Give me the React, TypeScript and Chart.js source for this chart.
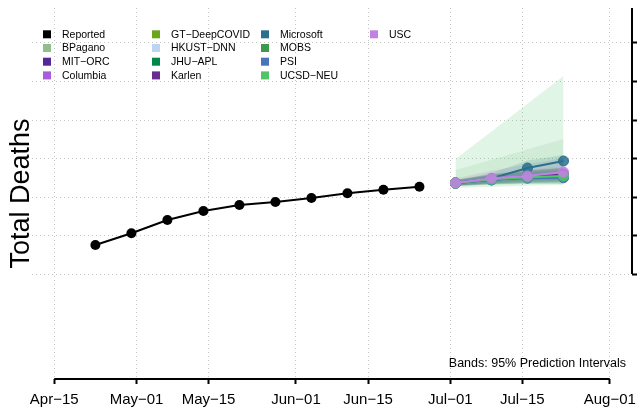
import React, { useEffect, useRef } from "react";
import { Chart, registerables } from "chart.js";

Chart.register(...registerables);

const FONT = "'Liberation Sans', Arial, Helvetica, sans-serif";

// x values are days since Apr-15
const xTickDays = [0, 16, 30, 47, 61, 77, 91, 108];
const xTickLabels = ["Apr−15", "May−01", "May−15", "Jun−01", "Jun−15", "Jul−01", "Jul−15", "Aug−01"];
const yTickValues = [4000, 5000, 6000, 7000, 8000, 9000, 10000];

const reportedDays = [8, 15, 22, 29, 36, 43, 50, 57, 64, 71];
const reportedDeaths = [4753, 5057, 5403, 5636, 5792, 5870, 5974, 6096, 6190, 6268];

const forecastDays = [78, 85, 92, 99];

const modelNames = ["BPagano", "MIT−ORC", "Columbia", "GT−DeepCOVID", "HKUST−DNN", "JHU−APL", "Karlen", "Microsoft", "MOBS", "PSI", "UCSD−NEU", "USC"];
const modelColors = ["#8fbf8f", "#54279a", "#a85ed8", "#6aa51e", "#bcd3f2", "#00884a", "#6a2c91", "#2a6f8c", "#3e9a4a", "#4a74ba", "#50c468", "#c083e2"];

// median forecasts
const medBPagano = [6362, 6460, 6530, 6560];
const medMITORC = [6360, 6450, 6510, 6540];
const medColumbia = [6366, 6475, 6550, 6600];
const medGT = [6362, 6455, 6520, 6550];
const medHKUST = [6358, 6440, 6500, 6520];
const medJHU = [6360, 6445, 6505, 6530];
const medKarlen = [6365, 6470, 6540, 6580];
const medMicrosoft = [6364, 6480, 6753, 6935];
const medMOBS = [6362, 6450, 6500, 6510];
const medPSI = [6360, 6445, 6490, 6500];
const medUCSD = [6363, 6460, 6515, 6545];
const medUSC = [6366, 6490, 6545, 6649];

// 95% interval lower bounds
const loBPagano = [6290, 6340, 6370, 6390];
const loMITORC = [6300, 6360, 6400, 6420];
const loColumbia = [6280, 6330, 6360, 6380];
const loGT = [6300, 6350, 6380, 6400];
const loHKUST = [6310, 6370, 6410, 6420];
const loJHU = [6290, 6340, 6370, 6380];
const loKarlen = [6300, 6370, 6420, 6440];
const loMicrosoft = [6310, 6370, 6500, 6600];
const loMOBS = [6280, 6320, 6340, 6340];
const loPSI = [6290, 6330, 6350, 6350];
const loUCSD = [6234, 6260, 6290, 6312];
const loUSC = [6310, 6400, 6440, 6520];

// 95% interval upper bounds
const hiBPagano = [6701, 6970, 7240, 7506];
const hiMITORC = [6430, 6560, 6650, 6700];
const hiColumbia = [6480, 6680, 6850, 7013];
const hiGT = [6430, 6570, 6680, 6750];
const hiHKUST = [6420, 6520, 6600, 6640];
const hiJHU = [6440, 6580, 6680, 6740];
const hiKarlen = [6440, 6580, 6680, 6760];
const hiMicrosoft = [6430, 6620, 6950, 7091];
const hiMOBS = [6450, 6600, 6700, 6760];
const hiPSI = [6430, 6560, 6640, 6680];
const hiUCSD = [6987, 7700, 8420, 9143];
const hiUSC = [6430, 6600, 6700, 6820];

const medians = [medBPagano, medMITORC, medColumbia, medGT, medHKUST, medJHU, medKarlen, medMicrosoft, medMOBS, medPSI, medUCSD, medUSC];
const lowers = [loBPagano, loMITORC, loColumbia, loGT, loHKUST, loJHU, loKarlen, loMicrosoft, loMOBS, loPSI, loUCSD, loUSC];
const uppers = [hiBPagano, hiMITORC, hiColumbia, hiGT, hiHKUST, hiJHU, hiKarlen, hiMicrosoft, hiMOBS, hiPSI, hiUCSD, hiUSC];

function rgba(hex: string, a: number) {
  const n = parseInt(hex.slice(1), 16);
  return `rgba(${(n >> 16) & 255},${(n >> 8) & 255},${n & 255},${a})`;
}

const pts = (xs: number[], ys: number[]) => xs.map((x, i) => ({ x, y: ys[i] }));

const decorPlugin = {
  id: "decor",
  afterDraw(chart: any) {
    const { ctx, chartArea } = chart;
    const xs = chart.scales.x;
    const ys = chart.scales.y;
    ctx.save();
    ctx.strokeStyle = "#000";
    ctx.lineWidth = 2;
    // bottom axis line spanning first..last tick
    ctx.beginPath();
    ctx.moveTo(xs.getPixelForValue(xTickDays[0]), chartArea.bottom);
    ctx.lineTo(xs.getPixelForValue(xTickDays[xTickDays.length - 1]), chartArea.bottom);
    ctx.stroke();
    // right axis line from plot top to lowest tick
    ctx.beginPath();
    ctx.moveTo(chartArea.right, chartArea.top);
    ctx.lineTo(chartArea.right, ys.getPixelForValue(yTickValues[0]));
    ctx.stroke();

    // legend
    ctx.font = `10.5px ${FONT}`;
    ctx.textBaseline = "middle";
    ctx.textAlign = "left";
    const labels = ["Reported", ...modelNames];
    const colors = ["#000000", ...modelColors];
    labels.forEach((lab, i) => {
      const col = Math.floor(i / 4);
      const row = i % 4;
      const x = chartArea.left + 11 + col * 109;
      const y = chartArea.top + 26.3 + row * 13.7;
      ctx.fillStyle = colors[i];
      ctx.fillRect(x, y - 4, 8, 8);
      ctx.fillStyle = "#000";
      ctx.fillText(lab, x + 19, y + 0.5);
    });

    // note
    ctx.font = `12.5px ${FONT}`;
    ctx.textAlign = "right";
    ctx.textBaseline = "alphabetic";
    ctx.fillStyle = "#000";
    ctx.fillText("Bands: 95% Prediction Intervals", chartArea.right - 6, chartArea.bottom - 12);
    ctx.restore();
  },
};

export default function App() {
  const ref = useRef<HTMLCanvasElement | null>(null);

  useEffect(() => {
    if (!ref.current) return;
    const datasets: any[] = [];
    datasets.push({
      label: "Reported",
      data: pts(reportedDays, reportedDeaths),
      borderColor: "#000",
      backgroundColor: "#000",
      borderWidth: 2,
      pointRadius: 5,
      pointBorderWidth: 0,
      borderCapStyle: "round",
      fill: false,
    });
    modelNames.forEach((name, i) => {
      datasets.push({
        label: name + " lower",
        data: pts(forecastDays, lowers[i]),
        borderWidth: 0,
        borderColor: "rgba(0,0,0,0)",
        pointRadius: 0,
        fill: false,
      });
      datasets.push({
        label: name + " upper",
        data: pts(forecastDays, uppers[i]),
        borderWidth: 0,
        borderColor: "rgba(0,0,0,0)",
        pointRadius: 0,
        fill: "-1",
        backgroundColor: rgba(modelColors[i], 0.17),
      });
    });
    modelNames.forEach((name, i) => {
      datasets.push({
        label: name,
        data: pts(forecastDays, medians[i]),
        borderColor: modelColors[i],
        backgroundColor: rgba(modelColors[i], 0.85),
        borderWidth: 2,
        pointRadius: 5,
        pointBorderWidth: 1,
        pointBorderColor: modelColors[i],
        fill: false,
      });
    });
    datasets.forEach((d, idx) => (d.order = 1000 - idx));

    const gridCommon = {
      color: "#c4c4c4",
      lineWidth: 1,
      drawTicks: true,
      tickLength: 5,
      tickColor: "#000",
      tickWidth: 2,
      tickBorderDash: [],
    };

    const chart = new Chart(ref.current, {
      type: "line",
      data: { datasets },
      plugins: [decorPlugin],
      options: {
        animation: false,
        responsive: true,
        maintainAspectRatio: false,
        layout: { padding: { top: 8, bottom: 0, left: 0, right: 0 } },
        plugins: {
          legend: { display: false },
          tooltip: { enabled: false },
        },
        elements: { line: { tension: 0 } },
        scales: {
          x: {
            type: "linear",
            position: "bottom",
            min: -4.32,
            max: 112.32,
            afterBuildTicks: (s: any) => {
              s.ticks = xTickDays.map((v) => ({ value: v }));
            },
            afterFit: (s: any) => {
              s.paddingLeft = 0;
              s.paddingRight = 0;
            },
            ticks: {
              autoSkip: false,
              maxRotation: 0,
              color: "#000",
              padding: 7,
              font: { family: FONT, size: 15 },
              callback: (v: any) => {
                const k = xTickDays.indexOf(Number(v));
                return k >= 0 ? xTickLabels[k] : "";
              },
            },
            grid: gridCommon,
            border: { display: false, dash: [1, 3] },
          },
          y: {
            type: "linear",
            position: "right",
            min: 1273,
            max: 10909,
            afterBuildTicks: (s: any) => {
              s.ticks = yTickValues.map((v) => ({ value: v }));
            },
            ticks: { display: false },
            grid: gridCommon,
            border: { display: false, dash: [1, 3] },
          },
          yTitle: {
            type: "linear",
            position: "left",
            display: true,
            grid: { display: false, drawTicks: false },
            ticks: { display: false },
            border: { display: false },
            title: {
              display: true,
              text: "Total Deaths",
              color: "#000",
              font: { family: FONT, size: 27, lineHeight: 1 },
              padding: { top: 8, bottom: -3 },
            },
          },
        },
      } as any,
    });
    return () => chart.destroy();
  }, []);

  return (
    <div style={{ position: "fixed", left: 0, top: 0, width: 638, height: 416, background: "#fff" }}>
      <canvas ref={ref} />
    </div>
  );
}
